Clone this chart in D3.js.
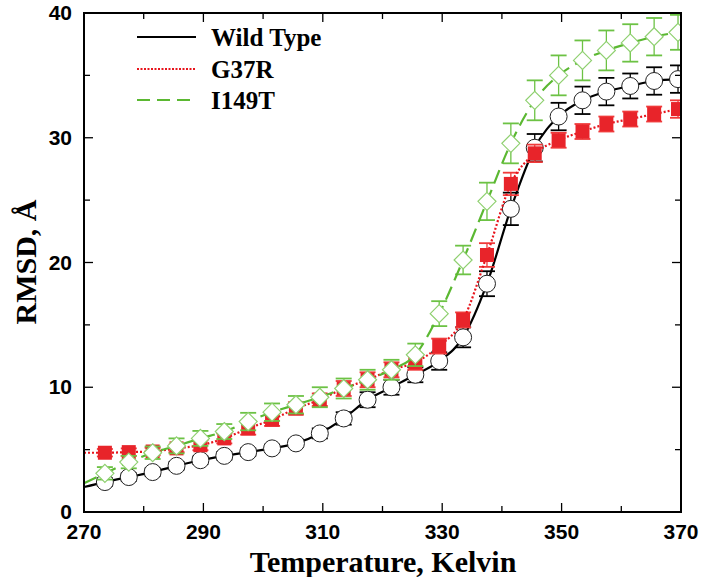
<!DOCTYPE html>
<html><head><meta charset="utf-8">
<script src="https://cdn.jsdelivr.net/npm/d3@7/dist/d3.min.js"></script>
<style>body{margin:0;background:#fff}svg{display:block}</style>
</head><body>
<script>
const temps = [273.5,277.5,281.5,285.5,289.5,293.5,297.5,301.5,305.5,309.5,313.5,317.5,321.5,325.5,329.5,333.5,337.5,341.5,345.5,349.5,353.5,357.5,361.5,365.5,369.5];
const wtVals   = [2.4,2.8,3.2,3.7,4.15,4.5,4.8,5.1,5.5,6.3,7.5,9.0,10.0,11.0,12.1,14.0,18.3,24.3,29.2,31.7,33.0,33.7,34.15,34.55,34.7];
const wtErr    = [0.3,0.3,0.3,0.3,0.3,0.3,0.3,0.3,0.3,0.4,0.5,0.6,0.6,0.6,0.7,0.8,1.0,1.3,1.1,1.1,1.1,1.1,1.0,1.1,1.1];
const g37rVals = [4.75,4.8,4.85,5.1,5.35,5.9,6.7,7.4,8.3,9.0,9.9,10.6,11.4,12.0,13.3,15.4,20.6,26.3,28.75,29.8,30.5,31.1,31.5,31.9,32.3];
const g37rErr  = [0.3,0.3,0.3,0.3,0.4,0.4,0.5,0.5,0.5,0.5,0.6,0.6,0.6,0.6,0.6,0.6,0.95,0.9,0.7,0.6,0.6,0.6,0.6,0.6,0.7];
const i149tVals= [3.1,4.0,4.75,5.3,5.9,6.45,7.25,8.0,8.6,9.2,9.9,10.6,11.4,12.6,15.9,20.2,24.9,29.55,33.0,35.0,36.2,37.0,37.6,38.1,38.45];
const i149tErr = [0.5,0.5,0.5,0.6,0.6,0.6,0.7,0.7,0.7,0.8,0.8,0.8,0.8,0.9,1.0,1.15,1.5,1.6,1.6,1.6,1.6,1.6,1.5,1.5,1.4];
// fitted-curve values at the left frame edge (270 K)
const fitStartT = 270;
const fitStart = {wt:2.0, g37r:4.75, i149t:2.3};
const xTicks = [270,290,310,330,350,370];
const yTicks = [0,10,20,30,40];
const legendNames = ["Wild Type","G37R","I149T"];

const W=705,H=577;
const m={l:84,r:705-681,t:13,b:577-512};
const svg=d3.select("body").append("svg").attr("width",W).attr("height",H);
const x=d3.scaleLinear().domain([270,370]).range([m.l,W-m.r]);
const y=d3.scaleLinear().domain([0,40]).range([H-m.b,m.t]);

svg.append("clipPath").attr("id","clip").append("rect")
  .attr("x",m.l).attr("y",m.t).attr("width",x(370)-x(270)).attr("height",y(0)-y(40));

const series=[
 {key:"wt",vals:wtVals,err:wtErr,color:"#000",errColor:"#000",dash:null,width:2.2,marker:"circle"},
 {key:"g37r",vals:g37rVals,err:g37rErr,color:"#e8141c",errColor:"#f03a3a",dash:"2,2",width:2.2,marker:"square"},
 {key:"i149t",vals:i149tVals,err:i149tErr,color:"#5bb832",errColor:"#6cc244",dash:"14,7",width:2.2,marker:"diamond"}
];

const plot=svg.append("g").attr("clip-path","url(#clip)");
const line=d3.line().x(d=>x(d[0])).y(d=>y(d[1])).curve(d3.curveMonotoneX);

series.forEach(s=>{
  const g=plot.append("g");
  const pts=[[fitStartT,fitStart[s.key]]].concat(temps.map((t,i)=>[t,s.vals[i]]));
  temps.forEach((t,i)=>{
    const cx=x(t), y1=y(s.vals[i]+s.err[i]), y2=y(s.vals[i]-s.err[i]);
    g.append("line").attr("x1",cx).attr("x2",cx).attr("y1",y1).attr("y2",y2).attr("stroke",s.errColor).attr("stroke-width",1.3);
    [y1,y2].forEach(yy=>g.append("line").attr("x1",cx-8).attr("x2",cx+8).attr("y1",yy).attr("y2",yy).attr("stroke",s.errColor).attr("stroke-width",1.8));
  });
  g.append("path").datum(pts).attr("d",line).attr("fill","none").attr("stroke",s.color)
    .attr("stroke-width",s.width).attr("stroke-dasharray",s.dash);
  temps.forEach((t,i)=>{
    const cx=x(t), cy=y(s.vals[i]);
    if(s.marker==="circle") g.append("circle").attr("cx",cx).attr("cy",cy).attr("r",8.5).attr("fill","#fff").attr("stroke","#222").attr("stroke-width",1);
    else if(s.marker==="square") g.append("rect").attr("x",cx-7).attr("y",cy-7).attr("width",14).attr("height",14).attr("fill","#e8242a");
    else g.append("path").attr("d",`M${cx},${cy-9}L${cx+9},${cy}L${cx},${cy+9}L${cx-9},${cy}Z`).attr("fill","#fff").attr("stroke","#8fd070").attr("stroke-width",1.2);
  });
});

const fg=svg.append("g");
fg.append("rect").attr("x",m.l).attr("y",m.t).attr("width",x(370)-x(270)).attr("height",y(0)-y(40))
  .attr("fill","none").attr("stroke","#000").attr("stroke-width",2);
d3.range(280,370,10).forEach(v=>{
  const len = v%20===10 ? 9 : 6;
  fg.append("line").attr("x1",x(v)).attr("x2",x(v)).attr("y1",y(0)).attr("y2",y(0)-len).attr("stroke","#000").attr("stroke-width",1.3);
  fg.append("line").attr("x1",x(v)).attr("x2",x(v)).attr("y1",y(40)).attr("y2",y(40)+len).attr("stroke","#000").attr("stroke-width",1.3);
});
d3.range(5,40,5).forEach(v=>{
  const len = v%10===0 ? 9 : 6;
  fg.append("line").attr("y1",y(v)).attr("y2",y(v)).attr("x1",x(270)).attr("x2",x(270)+len).attr("stroke","#000").attr("stroke-width",1.3);
  fg.append("line").attr("y1",y(v)).attr("y2",y(v)).attr("x1",x(370)).attr("x2",x(370)-len).attr("stroke","#000").attr("stroke-width",1.3);
});
const tickFont="'Liberation Sans',Arial,sans-serif";
xTicks.forEach(v=>fg.append("text").attr("x",x(v)).attr("y",539).attr("text-anchor","middle")
  .attr("font-family",tickFont).attr("font-weight","bold").attr("font-size",21).text(v));
yTicks.forEach(v=>fg.append("text").attr("x",72).attr("y",y(v)+7).attr("text-anchor","end")
  .attr("font-family",tickFont).attr("font-weight","bold").attr("font-size",21).text(v));
const serif="'Liberation Serif','Times New Roman',serif";
fg.append("text").attr("x",383).attr("y",572).attr("text-anchor","middle").attr("font-family",serif)
  .attr("font-weight","bold").attr("font-size",30).text("Temperature, Kelvin");
fg.append("text").attr("transform","translate(36,262) rotate(-90)").attr("text-anchor","middle").attr("font-family",serif)
  .attr("font-weight","bold").attr("font-size",30).text("RMSD, Å");

const lg=svg.append("g");
const legY=[37,69,100];
series.forEach((s,i)=>{
  lg.append("line").attr("x1",137).attr("x2",196).attr("y1",legY[i]).attr("y2",legY[i]).attr("stroke",s.color)
    .attr("stroke-width",2).attr("stroke-dasharray",s.dash?(s.key==="i149t"?"13,7":"2,1.5"):null);
  lg.append("text").attr("x",211).attr("y",legY[i]+9).attr("font-family",serif).attr("font-weight","bold")
    .attr("font-size",25).text(legendNames[i]);
});
</script>
</body></html>
